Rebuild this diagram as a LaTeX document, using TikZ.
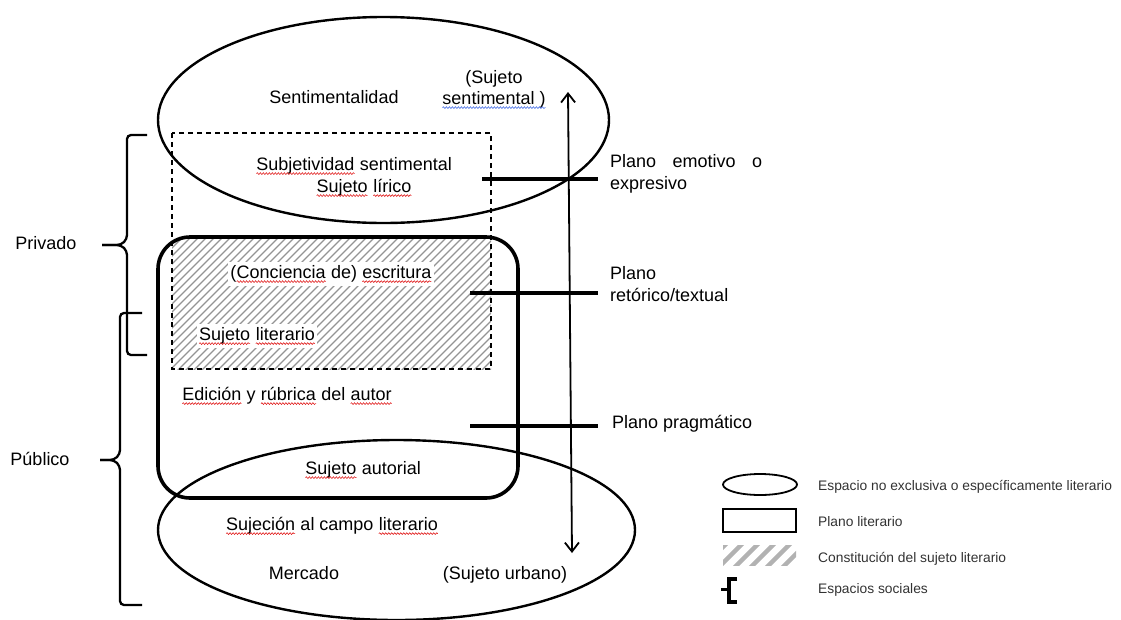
\documentclass[tikz,border=0pt]{standalone}
\usepackage{fontspec}
\setmainfont{Liberation Sans}
\usetikzlibrary{arrows.meta,decorations.pathmorphing}
\definecolor{wavered}{RGB}{225,30,30}
\definecolor{waveblue}{RGB}{70,110,230}
\definecolor{legtext}{RGB}{50,50,50}
\newcommand\wavy[2]{\tikz[baseline=(w.base),x=1pt,y=1pt]{\node[inner sep=0pt,outer sep=0pt] (w) {#2};\draw[#1,line width=0.6pt,decorate,decoration={snake,amplitude=0.9pt,segment length=3pt}] ([yshift=-3.6pt]w.base west) -- ([yshift=-3.6pt]w.base east);}}
\newcommand\rw[1]{\wavy{wavered}{#1}}
\newcommand\bw[1]{\wavy{waveblue}{#1}}
\begin{document}
\begin{tikzpicture}[x=1pt,y=-1pt,
  txt/.style={font=\fontsize{18}{21}\selectfont, inner sep=0pt, anchor=base},
  ltxt/.style={font=\fontsize{13.8}{16}\selectfont, text=legtext, inner sep=0pt, anchor=base west},
  wtxt/.style={txt, fill=white, inner xsep=2pt, inner ysep=3pt},
  oval/.style={line width=2.4pt},
  litbox/.style={line width=3.6pt, rounded corners=32pt},
  dashbox/.style={line width=1.4pt, dash pattern=on 5pt off 4pt},
  plane/.style={line width=3.6pt},
  brace/.style={line width=2.3pt, rounded corners=4pt},
  hatch/.style={line width=1.2pt, black!42},
  axis/.style={line width=1.8pt, {Straight Barb[length=9pt,width=14pt,line width=1.8pt]}-{Straight Barb[length=9pt,width=14pt,line width=1.8pt]}}
]
\useasboundingbox (0,0) rectangle (1121,619);

% hatching: dashed box inside the rounded box
\begin{scope}
  \clip (172,133) rectangle (491,369);
  \clip[rounded corners=32pt] (158,237) rectangle (518,498);
  \foreach \i in {-320,-312,...,520} {
    \draw[hatch] (\i,380) -- ++(260,-260);
  }
\end{scope}

% ovals
\draw[oval] (383.5,120) ellipse [x radius=225.5, y radius=103];
\draw[oval] (396.5,530) ellipse [x radius=238.5, y radius=90];

% literary plane box
\draw[litbox] (158,237) rectangle (518,498);

% dashed box
\draw[dashbox] (172,133) rectangle (491,369);

% vertical axis
\coordinate (axtop) at (568,92);
\coordinate (axbot) at (572,553);
\draw[axis] (axbot) -- (axtop);

% plane lines
\coordinate (p1a) at (482,179); \coordinate (p1b) at (598,179);
\coordinate (p2a) at (470,293); \coordinate (p2b) at (598,293);
\coordinate (p3a) at (470,426); \coordinate (p3b) at (598,426);
\draw[plane] (p1a) -- (p1b);
\draw[plane] (p2a) -- (p2b);
\draw[plane] (p3a) -- (p3b);

% braces
\draw[brace] (147,135) -- (127,135) -- (127,239) -- (121,245) -- (102,245);
\draw[brace] (102,245) -- (121,245) -- (127,251) -- (127,355) -- (147,355);
\draw[brace] (142,313) -- (120,313) -- (120,454) -- (114,460) -- (100,460);
\draw[brace] (100,460) -- (114,460) -- (120,466) -- (120,605) -- (142,605);

% texts
\node[txt] (sent) at (334,103.5) {Sentimentalidad};
\node[txt] (sjsa) at (494,83) {(Sujeto};
\node[txt] (sjsb) at (494,104) {\bw{sentimental )}};
\node[txt] (subj) at (354,170) {\rw{Subjetividad} sentimental};
\node[txt] (lir) at (364,192) {\rw{Sujeto} \rw{lírico}};
\node[wtxt] (conc) at (331,278) {(\rw{Conciencia} de) \rw{escritura}};
\node[wtxt] (slit) at (257,340) {\rw{Sujeto} \rw{literario}};
\node[txt] (edic) at (287,400) {\rw{Edición} y \rw{rúbrica} del \rw{autor}};
\node[txt] (saut) at (363,474) {\rw{Sujeto} autorial};
\node[txt] (sujc) at (332,530) {\rw{Sujeción} al campo \rw{literario}};
\node[txt] (merc) at (304,579) {Mercado};
\node[txt] (surb) at (505,579) {(Sujeto urbano)};

\node[txt] (priv) at (46,249) {Privado};
\node[txt] (publ) at (40,465) {Público};

\node[txt, anchor=base west] (pe1) at (610,167) {\makebox[152pt][s]{Plano emotivo o}};
\node[txt, anchor=base west] (pe2) at (610,189) {expresivo};
\node[txt, anchor=base west] (pr1) at (610,279) {Plano};
\node[txt, anchor=base west] (pr2) at (610,301) {retórico/textual};
\node[txt, anchor=base west] (pp) at (612,428) {Plano pragmático};

% legend
\draw[line width=1.8pt] (760,484.5) ellipse [x radius=37, y radius=10.5];
\draw[line width=2.4pt] (723,509) rectangle (796,532);
\begin{scope}
  \clip (723,545) rectangle (796,565);
  \foreach \i in {700,716,...,800} {
    \draw[line width=4.5pt, black!30] (\i,570) -- ++(30,-30);
  }
\end{scope}
\draw[line width=3.6pt, line join=miter] (737,579) -- (729,579) -- (729,602) -- (737,602);
\draw[line width=3.6pt] (721,589.5) -- (729,589.5);

\node[ltxt] (l1) at (818,490) {Espacio no exclusiva o específicamente literario};
\node[ltxt] (l2) at (818,526) {Plano literario};
\node[ltxt] (l3) at (818,562) {Constitución del sujeto literario};
\node[ltxt] (l4) at (818,593) {Espacios sociales};
\end{tikzpicture}
\end{document}
